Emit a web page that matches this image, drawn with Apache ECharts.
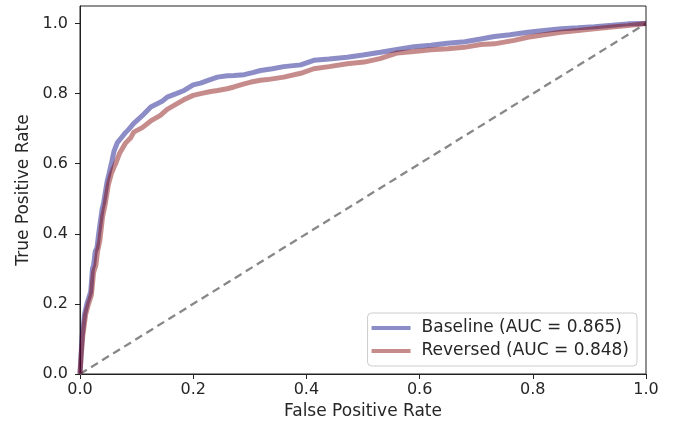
<!DOCTYPE html>
<html>
<head>
<meta charset="utf-8">
<script src="https://cdn.jsdelivr.net/npm/echarts@6/dist/echarts.min.js"></script>
<style>html,body{margin:0;padding:0;background:#fff;}#c{width:681px;height:433px;}</style>
</head>
<body>
<div id="c"></div>
<script>
const tickValues = [0, 0.2, 0.4, 0.6, 0.8, 1.0];
const seriesNames = ['Baseline (AUC = 0.865)', 'Reversed (AUC = 0.848)'];
const fprBase = [0, 0.002, 0.004, 0.008, 0.013, 0.019, 0.022, 0.024, 0.027, 0.030, 0.033, 0.039, 0.042, 0.048, 0.051, 0.056, 0.060, 0.066, 0.072, 0.080, 0.086, 0.095, 0.110, 0.125, 0.145, 0.154, 0.170, 0.184, 0.200, 0.213, 0.230, 0.243, 0.260, 0.272, 0.290, 0.305, 0.319, 0.340, 0.360, 0.390, 0.413, 0.440, 0.472, 0.500, 0.531, 0.560, 0.590, 0.620, 0.649, 0.680, 0.708, 0.732, 0.760, 0.791, 0.820, 0.850, 0.880, 0.909, 0.940, 0.968, 1.0];
const tprBase = [0, 0.06, 0.11, 0.17, 0.205, 0.235, 0.30, 0.31, 0.35, 0.36, 0.40, 0.47, 0.49, 0.55, 0.57, 0.605, 0.635, 0.66, 0.672, 0.688, 0.698, 0.715, 0.737, 0.762, 0.778, 0.79, 0.80, 0.809, 0.825, 0.830, 0.840, 0.847, 0.851, 0.852, 0.854, 0.86, 0.866, 0.871, 0.877, 0.882, 0.895, 0.899, 0.904, 0.91, 0.918, 0.926, 0.934, 0.938, 0.944, 0.948, 0.956, 0.963, 0.968, 0.975, 0.98, 0.985, 0.988, 0.991, 0.995, 0.999, 1.0];
const fprRev = [0, 0.002, 0.005, 0.010, 0.015, 0.020, 0.024, 0.028, 0.031, 0.035, 0.040, 0.044, 0.050, 0.055, 0.060, 0.063, 0.070, 0.080, 0.090, 0.095, 0.110, 0.125, 0.142, 0.154, 0.170, 0.184, 0.200, 0.213, 0.231, 0.243, 0.260, 0.272, 0.290, 0.302, 0.319, 0.331, 0.360, 0.390, 0.413, 0.440, 0.472, 0.502, 0.530, 0.561, 0.590, 0.620, 0.650, 0.679, 0.708, 0.732, 0.767, 0.791, 0.820, 0.850, 0.880, 0.909, 0.940, 0.968, 1.0];
const tprRev = [0, 0.05, 0.11, 0.17, 0.20, 0.225, 0.29, 0.31, 0.35, 0.38, 0.45, 0.48, 0.54, 0.57, 0.59, 0.60, 0.63, 0.658, 0.675, 0.69, 0.703, 0.722, 0.738, 0.755, 0.77, 0.783, 0.795, 0.80, 0.806, 0.809, 0.814, 0.819, 0.828, 0.833, 0.838, 0.84, 0.847, 0.858, 0.871, 0.877, 0.885, 0.89, 0.90, 0.916, 0.92, 0.925, 0.928, 0.932, 0.94, 0.942, 0.952, 0.961, 0.968, 0.975, 0.98, 0.985, 0.99, 0.994, 1.0];
const chanceLine = [[0, 0], [1, 1]];

const zip = (a, b) => a.map((v, i) => [v, b[i]]);
const FONT = 'DejaVu Sans';
const TXT = '#262626';
const blue = 'rgba(0,0,128,0.45)';
const red = 'rgba(128,0,0,0.45)';

const chart = echarts.init(document.getElementById('c'), null, {renderer: 'canvas'});
chart.setOption({
  animation: false,
  grid: {left: 80, right: 35, top: 6, bottom: 59, containLabel: false, show: true, borderColor: '#222', borderWidth: 1, backgroundColor: 'transparent'},
  xAxis: {
    type: 'value', min: 0, max: 1,
    name: 'False Positive Rate', nameLocation: 'middle', nameGap: 27,
    nameTextStyle: {fontFamily: FONT, fontSize: 17, color: TXT},
    axisLine: {show: true, onZero: false, lineStyle: {color: '#222', width: 1}},
    axisTick: {show: true, length: 5, inside: false, customValues: tickValues, lineStyle: {color: '#222'}},
    axisLabel: {margin: 8, fontFamily: FONT, fontSize: 16, color: TXT, customValues: tickValues, formatter: v => v.toFixed(1)},
    splitLine: {show: false}
  },
  yAxis: {
    type: 'value', min: 0, max: 1.05,
    name: 'True Positive Rate', nameLocation: 'middle', nameGap: 45,
    nameTextStyle: {fontFamily: FONT, fontSize: 17, color: TXT},
    axisLine: {show: true, onZero: false, lineStyle: {color: '#222', width: 1}},
    axisTick: {show: true, length: 5, inside: false, customValues: tickValues, lineStyle: {color: '#222'}},
    axisLabel: {margin: 12, fontFamily: FONT, fontSize: 16, color: TXT, customValues: tickValues, formatter: v => v.toFixed(1)},
    splitLine: {show: false}
  },
  legend: {
    orient: 'vertical', right: 44, bottom: 67,
    backgroundColor: 'rgba(255,255,255,0.8)', borderColor: '#cccccc', borderWidth: 1, borderRadius: 4,
    padding: [5, 8, 5, 4], itemGap: 3, itemWidth: 39, itemHeight: 4,
    icon: 'rect',
    textStyle: {fontFamily: FONT, fontSize: 17, color: TXT, lineHeight: 20, padding: [0, 0, 0, 6]},
    data: seriesNames
  },
  series: [
    {type: 'line', name: 'chance', data: chanceLine, showSymbol: false, symbol: 'none', silent: true,
     lineStyle: {color: '#888888', width: 2.3, type: [8, 5]}, z: 1},
    {type: 'line', name: seriesNames[0], data: zip(fprBase, tprBase), showSymbol: false, symbol: 'none',
     itemStyle: {color: blue}, lineStyle: {color: blue, width: 5}, z: 2},
    {type: 'line', name: seriesNames[1], data: zip(fprRev, tprRev), showSymbol: false, symbol: 'none',
     itemStyle: {color: red}, lineStyle: {color: red, width: 5}, z: 3}
  ]
});
</script>
</body>
</html>
